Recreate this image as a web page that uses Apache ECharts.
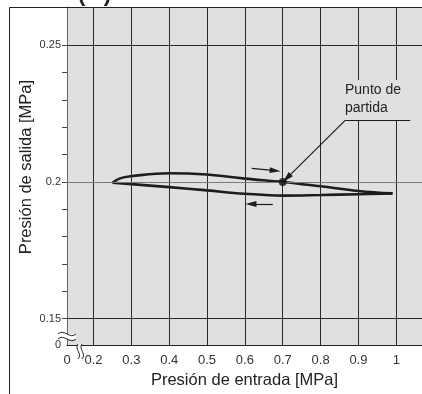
<!DOCTYPE html>
<html><head><meta charset="utf-8">
<script src="https://cdn.jsdelivr.net/npm/echarts@6/dist/echarts.min.js"></script>
<style>html,body{margin:0;padding:0;background:#fff}#c{width:422px;height:394px}</style>
</head><body><div id="c"></div>
<script>
// ---- data ----
const UPPER_X = [0.25, 0.27, 0.3, 0.4, 0.5, 0.6, 0.7, 0.8, 0.9, 0.99];
const UPPER_Y = [0.1997, 0.2013, 0.2021, 0.2032, 0.2027, 0.2012, 0.2000, 0.1984, 0.1967, 0.1958];
const LOWER_X = [0.25, 0.3, 0.4, 0.5, 0.6, 0.7, 0.8, 0.9, 0.99];
const LOWER_Y = [0.1997, 0.1992, 0.1981, 0.1969, 0.1957, 0.1950, 0.1952, 0.1955, 0.1958];
const START_POINT = [0.7, 0.2];
const X_GRID = [0.2, 0.3, 0.4, 0.5, 0.6, 0.7, 0.8, 0.9, 1.0];
const Y_GRID = [0.15, 0.2, 0.25];
const X_TICK_VALUES = [0.2, 0.3, 0.4, 0.5, 0.6, 0.7, 0.8, 0.9, 1];
const X_TICK_LABELS = ['0.2', '0.3', '0.4', '0.5', '0.6', '0.7', '0.8', '0.9', '1'];
const Y_TICK_VALUES = [0.15, 0.2, 0.25];
const Y_TICK_LABELS = ['0.15', '0.2', '0.25'];
const Y_MINOR_TICKS = [0.15, 0.16, 0.17, 0.18, 0.19, 0.2, 0.21, 0.22, 0.23, 0.24, 0.25];
// broken axes: the "0" origin is drawn at these axis values
const X_ZERO_AT = 0.13;
const Y_ZERO_AT = 0.1403;
const ZERO_LABEL = '0';
const X_NAME = 'Presión de entrada [MPa]';
const Y_NAME = 'Presión de salida [MPa]';
const NOTE_TEXT = 'Punto de\npartida';
// annotation geometry in data units
const NOTE_POINTER = [[0.865, 0.2225], [0.711, 0.2014]];
const NOTE_UNDERLINE = [[0.865, 0.2225], [1.037, 0.2225]];
const ARROW_UP = [[0.618, 0.20495], [0.680, 0.20412]];
const ARROW_DOWN = [[0.674, 0.19194], [0.616, 0.19194]];

const FONT = 'Liberation Sans, Arial, Helvetica, sans-serif';
const xLabelMap = new Map(X_TICK_VALUES.map((v, i) => [v, X_TICK_LABELS[i]]));
xLabelMap.set(X_ZERO_AT, ZERO_LABEL);
const yLabelMap = new Map(Y_TICK_VALUES.map((v, i) => [v, Y_TICK_LABELS[i]]));
yLabelMap.set(Y_ZERO_AT, ZERO_LABEL);

const chart = echarts.init(document.getElementById('c'), null, {renderer: 'canvas'});

const gridLines = [];
X_GRID.forEach(v => gridLines.push({xAxis: v, lineStyle: {color: '#2a2a2a', width: 1, type: 'solid'}}));
Y_GRID.forEach(v => gridLines.push({yAxis: v, lineStyle: {color: v === 0.2 ? '#7a7a7a' : '#2a2a2a', width: 1, type: 'solid'}}));

const seg = (p, q) => [{coord: p}, {coord: q}];
const wave = (x1, y1, x2, y2, c1x, c1y, c2x, c2y) => ({
  type: 'bezierCurve', z: 21,
  shape: {x1: x1, y1: y1, x2: x2, y2: y2, cpx1: c1x, cpy1: c1y, cpx2: c2x, cpy2: c2y},
  style: {stroke: '#222', lineWidth: 1, fill: null}
});

const option = {
  animation: false,
  backgroundColor: '#ffffff',
  grid: {left: 67, right: -1, top: 7, bottom: 42, show: true, backgroundColor: '#dfe0e2', borderWidth: 0},
  xAxis: {
    type: 'value', min: X_ZERO_AT, max: 1.068,
    splitLine: {show: false},
    axisTick: {show: false},
    axisLine: {show: true, lineStyle: {color: '#222', width: 1}},
    axisLabel: {
      customValues: [X_ZERO_AT].concat(X_TICK_VALUES),
      formatter: v => xLabelMap.has(v) ? xLabelMap.get(v) : '',
      fontSize: 13, color: '#333', margin: 9, fontFamily: FONT
    },
    name: X_NAME, nameLocation: 'middle', nameGap: 23,
    nameTextStyle: {fontSize: 16.5, color: '#222', fontFamily: FONT}
  },
  yAxis: {
    type: 'value', min: Y_ZERO_AT, max: 0.264,
    splitLine: {show: false},
    axisLine: {show: true, lineStyle: {color: '#666', width: 1}},
    axisTick: {show: true, customValues: Y_MINOR_TICKS, length: 5, inside: false, lineStyle: {color: '#444', width: 1}},
    axisLabel: {
      customValues: [Y_ZERO_AT].concat(Y_TICK_VALUES),
      formatter: v => yLabelMap.has(v) ? yLabelMap.get(v) : '',
      fontSize: 11, color: '#333', margin: 6, fontFamily: FONT
    }
  },
  series: [
    {
      type: 'line', data: [], z: 1, silent: true,
      markLine: {silent: true, symbol: 'none', label: {show: false}, data: gridLines, animation: false}
    },
    {
      type: 'line', z: 3, silent: true, smooth: 0.4, showSymbol: false,
      data: UPPER_X.map((x, i) => [x, UPPER_Y[i]]),
      lineStyle: {color: '#1c1c1c', width: 2.6}
    },
    {
      type: 'line', z: 3, silent: true, smooth: 0.4, showSymbol: false,
      data: LOWER_X.map((x, i) => [x, LOWER_Y[i]]),
      lineStyle: {color: '#1c1c1c', width: 2.6}
    },
    {
      type: 'scatter', z: 5, silent: true, symbolSize: 8,
      itemStyle: {color: '#111'},
      data: [START_POINT]
    },
    {
      type: 'line', data: [], z: 6, silent: true,
      markLine: {
        silent: true, label: {show: false}, animation: false,
        data: [
          seg(NOTE_POINTER[0], NOTE_POINTER[1]),
          seg(ARROW_UP[0], ARROW_UP[1]),
          seg(ARROW_DOWN[0], ARROW_DOWN[1])
        ],
        symbol: ['none', 'triangle'], symbolSize: [6, 11],
        lineStyle: {color: '#1c1c1c', width: 1.2, type: 'solid'}
      }
    },
    {
      type: 'line', data: [], z: 6, silent: true,
      markLine: {
        silent: true, label: {show: false}, animation: false, symbol: 'none',
        data: [seg(NOTE_UNDERLINE[0], NOTE_UNDERLINE[1])],
        lineStyle: {color: '#1c1c1c', width: 1, type: 'solid'}
      }
    }
  ],
  graphic: [
    {type: 'polyline', z: 20, shape: {points: [[9.5, 394], [9.5, 7.5], [422, 7.5]]}, style: {stroke: '#222', lineWidth: 1, fill: null}},
    {type: 'text', z: 20, x: 343, y: 80, style: {text: NOTE_TEXT, font: '14px ' + FONT, fill: '#222', lineHeight: 18, backgroundColor: '#dfe0e2', padding: [1, 4, 3, 2]}},
    {type: 'text', z: 20, x: 26, y: 167, rotation: Math.PI / 2, style: {text: Y_NAME, font: '16.5px ' + FONT, fill: '#222', align: 'center', verticalAlign: 'middle'}},
    {type: 'text', z: 20, x: 78, y: -16, style: {text: '(   )', font: 'bold 22px ' + FONT, fill: '#222'}},
    // y-axis break mark
    {type: 'rect', z: 20, shape: {x: 58, y: 334, width: 18, height: 5}, style: {fill: '#ffffff'}},
    wave(58, 334, 76, 334, 64, 328, 70, 340),
    wave(58, 339, 76, 339, 64, 333, 70, 345),
    // x-axis break mark
    {type: 'rect', z: 20, shape: {x: 77.5, y: 344, width: 4, height: 14}, style: {fill: '#ffffff'}},
    wave(78, 344, 78, 359, 74, 349, 83, 354),
    wave(82, 344, 82, 359, 78, 349, 87, 354)
  ]
};
chart.setOption(option);
</script>
</body></html>
